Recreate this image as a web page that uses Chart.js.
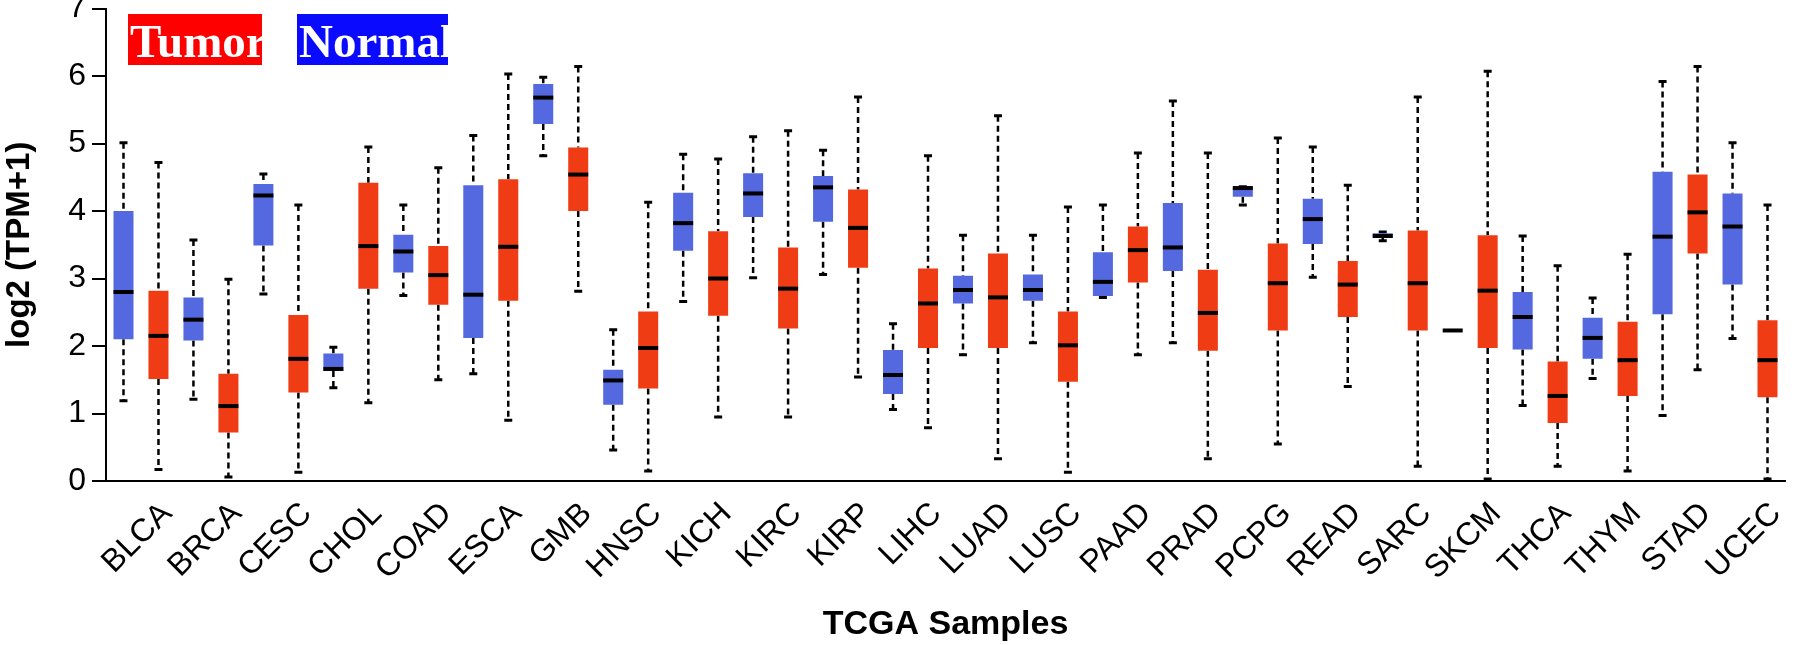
<!DOCTYPE html>
<html>
<head>
<meta charset="utf-8">
<script src="https://cdn.jsdelivr.net/npm/chart.js@4.4.1/dist/chart.umd.min.js"></script>
<style>
    body { margin: 0; background: #fff; }
    #wrap { width: 1800px; height: 645px; }
</style>
</head>
<body>
<div id="wrap"><canvas id="boxChart"></canvas></div>
<script>
// TCGA cancer types (x categories)
const cancerTypes = ["BLCA", "BRCA", "CESC", "CHOL", "COAD", "ESCA", "GMB", "HNSC", "KICH", "KIRC", "KIRP", "LIHC",
    "LUAD", "LUSC", "PAAD", "PRAD", "PCPG", "READ", "SARC", "SKCM", "THCA", "THYM", "STAD", "UCEC"];

// Normal samples: whisker min, Q1, median, Q3, whisker max
const normalMin = [1.19, 1.21, 2.77, 1.38, 2.75, 1.59, 4.82, 0.46, 2.66, 3.01, 3.06, 1.06,
    1.87, 2.05, 2.72, 2.05, 4.09, 3.02, 3.56, 2.23, 1.12, 1.52, 0.97, 2.11];
const normalQ1 = [2.10, 2.08, 3.49, 1.63, 3.09, 2.12, 5.29, 1.13, 3.41, 3.91, 3.84, 1.29,
    2.63, 2.67, 2.74, 3.11, 4.21, 3.51, 3.60, 2.23, 1.95, 1.81, 2.47, 2.91];
const normalMedian = [2.80, 2.39, 4.23, 1.66, 3.40, 2.76, 5.68, 1.49, 3.82, 4.26, 4.35, 1.57,
    2.83, 2.83, 2.95, 3.46, 4.34, 3.88, 3.63, 2.23, 2.43, 2.12, 3.62, 3.77];
const normalQ3 = [4.00, 2.72, 4.40, 1.89, 3.65, 4.38, 5.88, 1.65, 4.27, 4.56, 4.52, 1.94,
    3.04, 3.06, 3.39, 4.12, 4.36, 4.18, 3.67, 2.23, 2.80, 2.42, 4.58, 4.26];
const normalMax = [5.01, 3.57, 4.55, 1.98, 4.09, 5.12, 5.98, 2.24, 4.84, 5.10, 4.90, 2.33,
    3.64, 3.64, 4.09, 5.63, 4.36, 4.95, 3.69, 2.23, 3.63, 2.71, 5.92, 5.01];

// Tumor samples
const tumorMin = [0.17, 0.06, 0.13, 1.16, 1.50, 0.90, 2.81, 0.15, 0.95, 0.95, 1.54, 0.79,
    0.33, 0.13, 1.87, 0.33, 0.55, 1.40, 0.22, 0.03, 0.22, 0.15, 1.65, 0.03];
const tumorQ1 = [1.51, 0.72, 1.31, 2.85, 2.61, 2.67, 4.00, 1.37, 2.45, 2.26, 3.16, 1.97,
    1.97, 1.47, 2.94, 1.93, 2.23, 2.43, 2.23, 1.97, 0.86, 1.26, 3.37, 1.24];
const tumorMedian = [2.15, 1.11, 1.81, 3.48, 3.05, 3.47, 4.54, 1.97, 3.00, 2.85, 3.75, 2.63,
    2.72, 2.01, 3.42, 2.49, 2.93, 2.91, 2.93, 2.82, 1.26, 1.79, 3.98, 1.79];
const tumorQ3 = [2.82, 1.59, 2.46, 4.42, 3.48, 4.47, 4.94, 2.51, 3.70, 3.46, 4.32, 3.15,
    3.37, 2.51, 3.77, 3.13, 3.52, 3.26, 3.71, 3.64, 1.77, 2.36, 4.54, 2.38];
const tumorMax = [4.72, 2.99, 4.09, 4.95, 4.64, 6.03, 6.14, 4.13, 4.77, 5.19, 5.69, 4.82,
    5.41, 4.06, 4.86, 4.86, 5.08, 4.38, 5.69, 6.07, 3.19, 3.36, 6.14, 4.09];

// y axis ticks
const yTicks = [0, 1, 2, 3, 4, 5, 6, 7];

document.addEventListener("DOMContentLoaded", () => {
    const normalBoxes = normalQ1.map((q1, i) => [q1, normalQ3[i]]);
    const tumorBoxes = tumorQ1.map((q1, i) => [q1, tumorQ3[i]]);

    const stats = [
        { min: normalMin, med: normalMedian, max: normalMax, q1: normalQ1, q3: normalQ3 },
        { min: tumorMin, med: tumorMedian, max: tumorMax, q1: tumorQ1, q3: tumorQ3 }
    ];

    // whiskers, caps and medians drawn around the floating bars
    const boxPlotPlugin = {
        id: "boxPlot",
        beforeDatasetsDraw(chart) {
            const ctx = chart.ctx;
            const y = chart.scales.y;
            ctx.save();
            ctx.strokeStyle = "#000";
            stats.forEach((s, d) => {
                chart.getDatasetMeta(d).data.forEach((bar, i) => {
                    const x = bar.x;
                    ctx.lineWidth = 2.5;
                    ctx.setLineDash([6, 4]);
                    ctx.beginPath();
                    ctx.moveTo(x, y.getPixelForValue(s.max[i]));
                    ctx.lineTo(x, y.getPixelForValue(s.q3[i]));
                    ctx.moveTo(x, y.getPixelForValue(s.q1[i]));
                    ctx.lineTo(x, y.getPixelForValue(s.min[i]));
                    ctx.stroke();
                    ctx.setLineDash([]);
                    ctx.lineWidth = 3;
                    ctx.beginPath();
                    [s.max[i], s.min[i]].forEach(v => {
                        const py = y.getPixelForValue(v);
                        ctx.moveTo(x - 4, py);
                        ctx.lineTo(x + 4, py);
                    });
                    ctx.stroke();
                });
            });
            ctx.restore();
        },
        afterDatasetsDraw(chart) {
            const ctx = chart.ctx;
            const y = chart.scales.y;
            ctx.save();
            ctx.strokeStyle = "#000";
            ctx.lineWidth = 4;
            stats.forEach((s, d) => {
                chart.getDatasetMeta(d).data.forEach((bar, i) => {
                    const py = y.getPixelForValue(s.med[i]);
                    const half = bar.width / 2;
                    ctx.beginPath();
                    ctx.moveTo(bar.x - half, py);
                    ctx.lineTo(bar.x + half, py);
                    ctx.stroke();
                });
            });
            ctx.restore();
        }
    };

    // the "Tumor" / "Normal" boxes in the top left corner
    const legendPlugin = {
        id: "tagLegend",
        afterDraw(chart) {
            const ctx = chart.ctx;
            const tags = [
                { text: "Tumor", color: "#ff0000", x: 128, w: 134 },
                { text: "Normal", color: "#0a0aff", x: 297, w: 151 }
            ];
            ctx.save();
            tags.forEach(t => {
                ctx.fillStyle = t.color;
                ctx.fillRect(t.x, 14, t.w, 51);
                ctx.save();
                ctx.beginPath();
                ctx.rect(t.x, 14, t.w, 51);
                ctx.clip();
                ctx.fillStyle = "#fff";
                ctx.font = "bold 47px 'Liberation Serif', 'Times New Roman', serif";
                ctx.textBaseline = "alphabetic";
                ctx.fillText(t.text, t.x + 2, 57);
                ctx.restore();
            });
            ctx.restore();
        }
    };

    const ctx = document.getElementById("boxChart").getContext("2d");
    new Chart(ctx, {
        type: "bar",
        data: {
            labels: cancerTypes,
            datasets: [
                {
                    label: "Normal",
                    data: normalBoxes,
                    backgroundColor: "#5468df",
                    borderWidth: 0,
                    barPercentage: 0.572,
                    categoryPercentage: 1.0
                },
                {
                    label: "Tumor",
                    data: tumorBoxes,
                    backgroundColor: "#f03c14",
                    borderWidth: 0,
                    barPercentage: 0.572,
                    categoryPercentage: 1.0
                }
            ]
        },
        options: {
            responsive: true,
            maintainAspectRatio: false,
            animation: false,
            layout: {
                padding: { left: 0, right: 15, top: 8.5, bottom: 0 }
            },
            plugins: {
                legend: { display: false },
                tooltip: { enabled: false }
            },
            scales: {
                x: {
                    grid: { display: false },
                    border: { display: true, color: "#000", width: 2 },
                    ticks: {
                        color: "#000",
                        font: { family: "'Liberation Sans', Arial, sans-serif", size: 32 },
                        minRotation: 45,
                        maxRotation: 45,
                        autoSkip: false,
                        padding: 6,
                        labelOffset: 26
                    },
                    title: {
                        display: true,
                        text: "TCGA Samples",
                        color: "#000",
                        font: { family: "'Liberation Sans', Arial, sans-serif", size: 34, weight: "bold" },
                        padding: { top: 0, bottom: 0 }
                    },
                    afterFit: (scale) => {
                        scale.height = 164;
                        scale.paddingLeft = 0;
                        scale.paddingRight = 0;
                    }
                },
                y: {
                    min: 0,
                    max: 7,
                    afterBuildTicks: (scale) => {
                        scale.ticks = yTicks.map(v => ({ value: v }));
                    },
                    grid: {
                        display: true,
                        drawOnChartArea: false,
                        drawTicks: true,
                        tickLength: 14,
                        color: "#000",
                        lineWidth: 2
                    },
                    border: { display: true, color: "#000", width: 2 },
                    ticks: {
                        color: "#000",
                        font: { family: "'Liberation Sans', Arial, sans-serif", size: 32 },
                        padding: 6
                    },
                    title: {
                        display: true,
                        text: "log2 (TPM+1)",
                        color: "#000",
                        font: { family: "'Liberation Sans', Arial, sans-serif", size: 33, weight: "bold" },
                        padding: { top: 0, bottom: 0 }
                    },
                    afterFit: (scale) => {
                        scale.width = 106;
                        scale.paddingTop = 0;
                        scale.paddingBottom = 0;
                    }
                }
            }
        },
        plugins: [boxPlotPlugin, legendPlugin]
    });
});
</script>
</body>
</html>
